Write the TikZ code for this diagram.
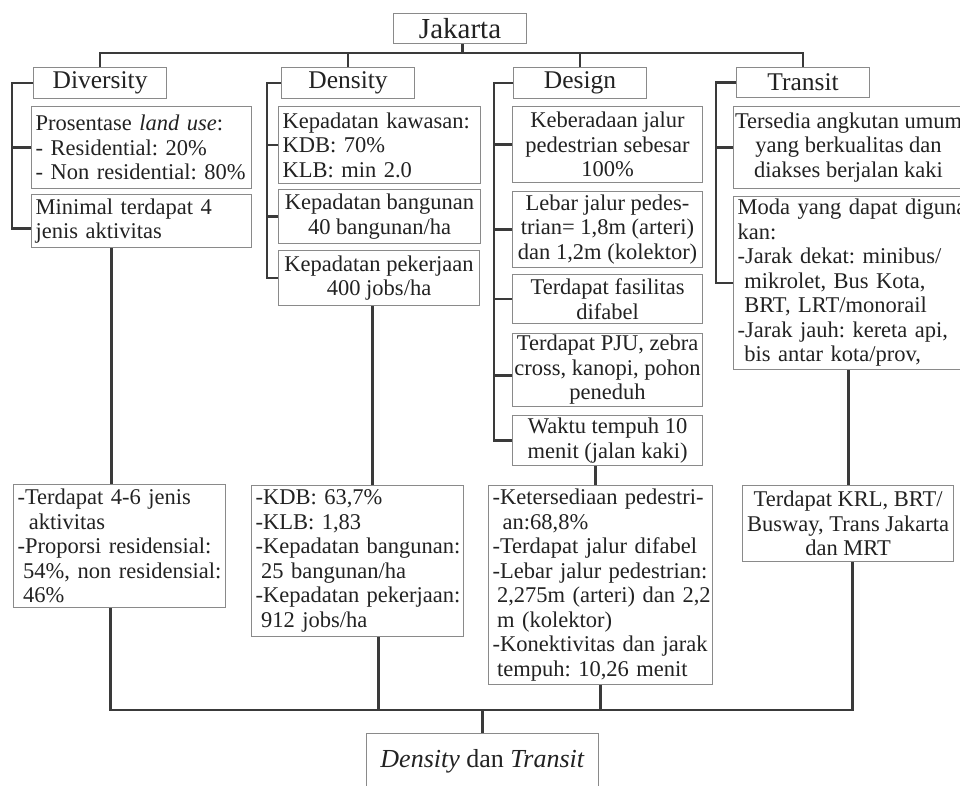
\documentclass[tikz,border=0pt]{standalone}
\usepackage{fontspec}
\setmainfont{Liberation Serif}
\frenchspacing
\definecolor{boxgray}{HTML}{8A8A8A}
\definecolor{conncol}{HTML}{3A3A3A}
\definecolor{txt}{HTML}{222222}
\newcommand{\bodyf}{\fontsize{22.5}{24.5}\selectfont}
\newcommand{\titlef}{\fontsize{25.5}{28}\selectfont}
\newcommand{\jakf}{\fontsize{29}{32}\selectfont}
\begin{document}
\begin{tikzpicture}[x=1pt,y=-1pt,
  base/.style={draw=boxgray, line width=1.1pt, fill=white, text=txt, anchor=north west},
  ttl/.style={base, inner sep=0pt, font=\titlef, minimum width=133pt, minimum height=31pt},
  cbox/.style={base, inner xsep=1pt, inner ysep=1pt, align=center, font=\bodyf},
  lbox/.style={base, inner xsep=4pt, inner ysep=1pt, align=left, font=\bodyf},
  conn/.style={draw=conncol, line width=2.6pt}]
\useasboundingbox[fill=white] (0,0) rectangle (960,785);

% titles
\node[ttl, font=\jakf, minimum height=30pt] (jak) at (393,13) {Jakarta};
\node[ttl] (dvT) at (33,67) {Diversity};
\node[ttl] (dnT) at (281,67) {Density};
\node[ttl] (dgT) at (513,67) {Design};
\node[ttl, minimum height=30pt] (trT) at (736,67) {Transit};

% Diversity
\node[lbox, minimum width=220pt, text width=212pt, minimum height=82pt] (dv1) at (31,106)
  {\mbox{Prosentase \textit{land use}:}\\\mbox{- Residential: 20\%}\\\mbox{- Non residential: 80\%}};
\node[lbox, minimum width=220pt, text width=212pt, minimum height=53pt] (dv2) at (31,194)
  {\mbox{Minimal terdapat 4}\\\mbox{jenis aktivitas}};

% Density
\node[lbox, minimum width=202pt, text width=194pt, minimum height=77pt] (dn1) at (278,106)
  {\mbox{Kepadatan kawasan:}\\\mbox{KDB: 70\%}\\\mbox{KLB: min 2.0}};
\node[cbox, minimum width=202pt, minimum height=54pt] (dn2) at (278,189)
  {Kepadatan bangunan\\40 bangunan/ha};
\node[cbox, minimum width=201pt, minimum height=55pt] (dn3) at (278,250)
  {Kepadatan pekerjaan\\400 jobs/ha};

% Design
\node[cbox, minimum width=190pt, minimum height=76pt] (dg1) at (512,106)
  {Keberadaan jalur\\pedestrian sebesar\\100\%};
\node[cbox, minimum width=190pt, minimum height=76pt] (dg2) at (512,191)
  {Lebar jalur pedes-\\trian= 1,8m (arteri)\\dan 1,2m (kolektor)};
\node[cbox, minimum width=190pt, minimum height=49pt] (dg3) at (512,274)
  {Terdapat fasilitas\\difabel};
\node[cbox, minimum width=190pt, minimum height=73pt] (dg4) at (512,333)
  {Terdapat PJU, zebra\\cross, kanopi, pohon\\peneduh};
\node[cbox, minimum width=190pt, minimum height=50pt] (dg5) at (512,415)
  {Waktu tempuh 10\\menit (jalan kaki)};

% Transit
\node[cbox, minimum width=230pt, minimum height=82pt] (tr1) at (733,106)
  {Tersedia angkutan umum\\yang berkualitas dan\\diakses berjalan kaki};
\node[lbox, minimum width=245pt, text width=237pt, minimum height=173pt] (tr2) at (733,196)
  {\mbox{Moda yang dapat diguna}\\\mbox{kan:}\\\mbox{-Jarak dekat: minibus/}\\\mbox{\hspace*{0.3em}mikrolet, Bus Kota,}\\\mbox{\hspace*{0.3em}BRT, LRT/monorail}\\\mbox{-Jarak jauh: kereta api,}\\\mbox{\hspace*{0.3em}bis antar kota/prov,}};

% results
\node[lbox, minimum width=212pt, text width=204pt, minimum height=123pt] (dvR) at (13,484)
  {\mbox{-Terdapat 4-6 jenis}\\\mbox{\hspace*{0.5em}aktivitas}\\\mbox{-Proporsi residensial:}\\\mbox{\hspace*{0.25em}54\%, non residensial:}\\\mbox{\hspace*{0.25em}46\%}};
\node[lbox, minimum width=212pt, text width=204pt, minimum height=151pt] (dnR) at (251,485)
  {\mbox{-KDB: 63,7\%}\\\mbox{-KLB: 1,83}\\\mbox{-Kepadatan bangunan:}\\\mbox{\hspace*{0.25em}25 bangunan/ha}\\\mbox{-Kepadatan pekerjaan:}\\\mbox{\hspace*{0.25em}912 jobs/ha}};
\node[lbox, minimum width=224pt, text width=216pt, minimum height=199pt] (dgR) at (488,485)
  {\mbox{-Ketersediaan pedestri-}\\\mbox{\hspace*{0.45em}an:68,8\%}\\\mbox{-Terdapat jalur difabel}\\\mbox{-Lebar jalur pedestrian:}\\\mbox{\hspace*{0.2em}2,275m (arteri) dan 2,2}\\\mbox{\hspace*{0.2em}m (kolektor)}\\\mbox{-Konektivitas dan jarak}\\\mbox{\hspace*{0.2em}tempuh: 10,26 menit}};
\node[cbox, minimum width=211pt, minimum height=76pt] (trR) at (742,485)
  {Terdapat KRL, BRT/\\Busway, Trans Jakarta\\dan MRT};
\node[cbox, font=\fontsize{26}{29}\selectfont, minimum width=232pt, minimum height=56pt] (fin) at (366,733)
  {\textit{Density} dan \textit{Transit}};

% top connectors
\coordinate (busY) at (0,53);
\coordinate (jd) at ([xshift=2.5pt]jak.south);
\draw[conn] (jd) -- (jd |- busY);
\draw[conn] (dvT.north) -- (dvT.north |- busY) -- (trT.north |- busY) -- (trT.north);
\draw[conn] (dnT.north) -- (dnT.north |- busY);
\draw[conn] (dgT.north) -- (dgT.north |- busY);

% brackets
\draw[conn] (dvT.west) -- ++(-21,0) |- ([yshift=-7.5pt]dv2.west);
\draw[conn] (dv1.west) -- ++(-19,0);
\draw[conn] (dnT.west) -- ++(-14,0) |- (dn3.west);
\draw[conn] (dn1.west) -- ++(-11,0);
\draw[conn] (dn2.west) -- ++(-11,0);
\draw[conn] (dgT.west) -- ++(-19,0) |- (dg5.west);
\draw[conn] (dg1.west) -- ++(-18,0);
\draw[conn] (dg2.west) -- ++(-18,0);
\draw[conn] (dg3.west) -- ++(-18,0);
\draw[conn] ([yshift=-5.5pt]dg4.west) -- ++(-18,0);
\draw[conn] (trT.west) -- ++(-20,0) |- (tr2.west);
\draw[conn] (tr1.west) -- ++(-17,0);

% drops to results
\coordinate (d1) at ([xshift=-30pt]dv2.south);
\coordinate (d2) at ([xshift=-6.5pt]dn3.south);
\coordinate (d3) at ([xshift=-12pt]dg5.south);
\coordinate (d4) at ([xshift=-7.5pt]tr2.south);
\draw[conn] (d1) -- (d1 |- dvR.north);
\draw[conn] (d2) -- (d2 |- dnR.north);
\draw[conn] (d3) -- (d3 |- dgR.north);
\draw[conn] (d4) -- (d4 |- trR.north);

% bottom bus
\coordinate (busB) at (0,710);
\coordinate (e1) at ([xshift=-9pt]dvR.south);
\coordinate (e2) at ([xshift=21pt]dnR.south);
\coordinate (e3) at (dgR.south);
\coordinate (e4) at ([xshift=4.5pt]trR.south);
\draw[conn] (e1) -- (e1 |- busB) -- (e4 |- busB) -- (e4);
\draw[conn] (e2) -- (e2 |- busB);
\draw[conn] (e3) -- (e3 |- busB);
\draw[conn] (fin.north) -- (fin.north |- busB);
\end{tikzpicture}
\end{document}
